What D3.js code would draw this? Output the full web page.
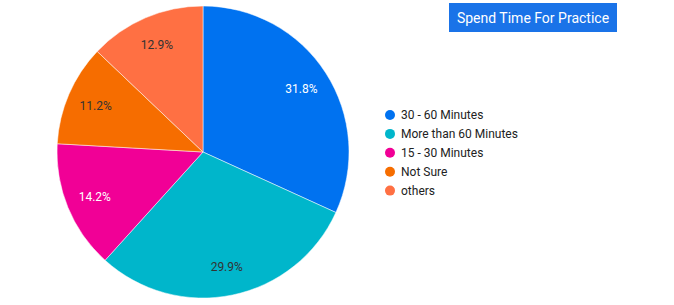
<!DOCTYPE html>
<html>
<head>
<meta charset="utf-8">
<script src="https://cdn.jsdelivr.net/npm/d3@7"></script>
<style>
  body { margin: 0; background: #fff; }
  svg { font-family: Roboto, "Noto Sans", sans-serif; }
</style>
</head>
<body>
<div id="chart"></div>
<script>
// data
var categories = ["30 - 60 Minutes", "More than 60 Minutes", "15 - 30 Minutes", "Not Sure", "others"];
var shares = [31.8, 29.9, 14.2, 11.2, 12.9];
var colors = ["#0072f0", "#00b6cb", "#f10096", "#f66d00", "#ff7043"];
var labelColors = ["#fff", "#333", "#fff", "#333", "#333"];
var title = "Spend Time For Practice";

var width = 674, height = 305;
var cx = 203, cy = 152, radius = 146;

var svg = d3.select("#chart").append("svg")
  .attr("width", width)
  .attr("height", height);

var data = categories.map(function (c, i) {
  return { name: c, value: shares[i], color: colors[i], label: labelColors[i] };
});

var pie = d3.pie().sort(null).value(function (d) { return d.value; });
var arc = d3.arc().innerRadius(0).outerRadius(radius);
var labelArc = d3.arc().innerRadius(117).outerRadius(117);

var g = svg.append("g").attr("transform", "translate(" + cx + "," + cy + ")");

var slices = g.selectAll("g.slice")
  .data(pie(data))
  .enter()
  .append("g")
  .attr("class", "slice");

slices.append("path")
  .attr("d", arc)
  .style("fill", function (d) { return d.data.color; })
  .style("stroke", "#fff")
  .style("stroke-width", 0.5);

slices.append("text")
  .attr("transform", function (d) { return "translate(" + labelArc.centroid(d) + ")"; })
  .attr("text-anchor", "middle")
  .attr("dy", "0.35em")
  .style("font-size", "12px")
  .style("fill", function (d) { return d.data.label; })
  .text(function (d) { return d.data.value.toFixed(1) + "%"; });

// legend
var legend = svg.append("g").attr("transform", "translate(390,115)");
var items = legend.selectAll("g")
  .data(data)
  .enter()
  .append("g")
  .attr("transform", function (d, i) { return "translate(0," + i * 18.9 + ")"; });

items.append("circle")
  .attr("r", 5)
  .style("fill", function (d) { return d.color; });

items.append("text")
  .attr("x", 11)
  .attr("dy", "0.35em")
  .style("font-size", "12px")
  .style("fill", "#222")
  .text(function (d) { return d.name; });

// title box
var tb = svg.append("g").attr("transform", "translate(449,3)");
tb.append("rect")
  .attr("width", 168)
  .attr("height", 29)
  .style("fill", "#1a73e8");
tb.append("text")
  .attr("x", 84)
  .attr("y", 15)
  .attr("dy", "0.35em")
  .attr("text-anchor", "middle")
  .style("font-size", "14px")
  .style("fill", "#fff")
  .text(title);
</script>
</body>
</html>
